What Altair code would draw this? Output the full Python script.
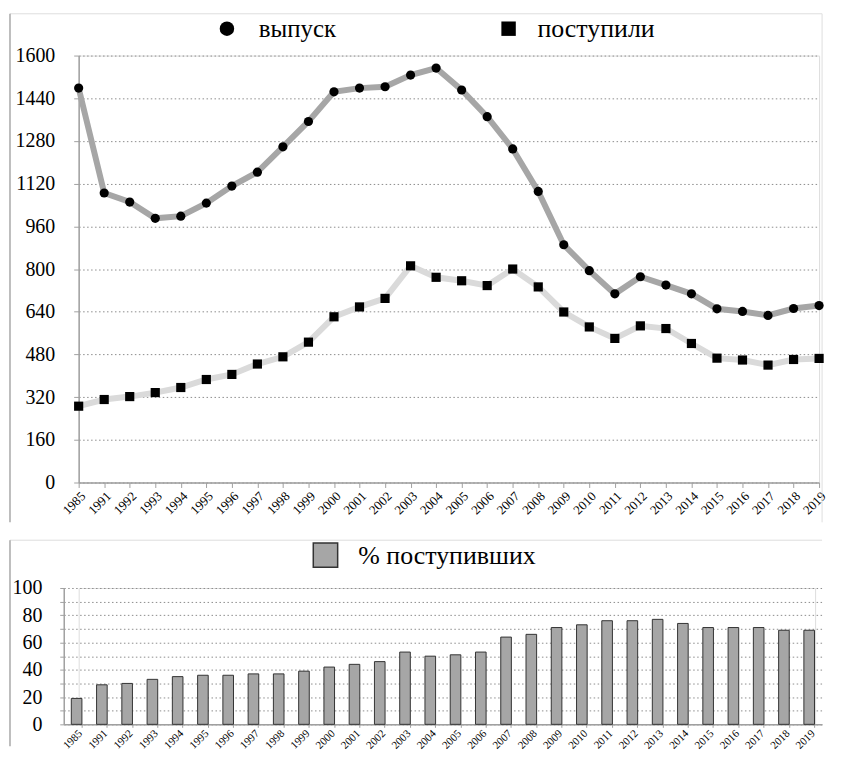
import altair as alt
import pandas as pd

SERIF = "Liberation Serif"

years = ["1985", "1991", "1992", "1993", "1994", "1995", "1996", "1997", "1998", "1999",
         "2000", "2001", "2002", "2003", "2004", "2005", "2006", "2007", "2008", "2009",
         "2010", "2011", "2012", "2013", "2014", "2015", "2016", "2017", "2018", "2019"]
vypusk = [1478, 1085, 1051, 990, 998, 1047, 1111, 1163, 1258, 1353,
          1464, 1478, 1483, 1527, 1553, 1471, 1371, 1250, 1091, 891,
          794, 707, 771, 740, 707, 651, 641, 626, 652, 663]
postupili = [286, 311, 322, 337, 356, 386, 405, 444, 471, 526,
             621, 658, 690, 812, 769, 756, 738, 800, 733, 639,
             583, 540, 587, 577, 521, 466, 459, 440, 461, 465]
percent = [19, 29, 30, 33, 35, 36, 36, 37, 37, 39,
           42, 44, 46, 53, 50, 51, 53, 64, 66, 71,
           73, 76, 76, 77, 74, 71, 71, 71, 69, 69]
series_names = ["выпуск", "поступили"]
bar_name = "% поступивших"
y_top_ticks = [0, 160, 320, 480, 640, 800, 960, 1120, 1280, 1440, 1600]
y_bot_ticks = [0, 10, 20, 30, 40, 50, 60, 70, 80, 90, 100]

df = pd.DataFrame({
    "year": years * 2,
    "series": [series_names[0]] * len(years) + [series_names[1]] * len(years),
    "value": vypusk + postupili,
})
dfb = pd.DataFrame({"year": years, "pct": percent, "series": [bar_name] * len(years)})
one = pd.DataFrame({"k": [0]})

AX = "#a0a0a0"
GRID = "#8c8c8c"

# ---------------- top chart (plot origin at page x=77) ----------------
TW, TH = 744, 429
RIGHT = 747
xt = alt.X("year:O", sort=years, scale=alt.Scale(type="point", padding=0),
           axis=alt.Axis(title=None, labelAngle=-45, labelFont=SERIF, labelFontSize=13,
                         labelColor="black", domainColor=AX, domainWidth=1.5, tickColor=AX,
                         tickSize=5, labelPadding=2, grid=False))
yt = alt.Y("value:Q", scale=alt.Scale(domain=[0, 1600], nice=False, zero=True),
           axis=alt.Axis(title=None, values=y_top_ticks, format="d", grid=True, gridColor=GRID,
                         gridDash=[1.5, 2.5], gridWidth=1, labelFont=SERIF, labelFontSize=20,
                         labelColor="black", labelPadding=19, tickSize=5, tickColor=AX,
                         domainColor=AX, domainWidth=1.5))

lines = alt.Chart(df).mark_line(strokeWidth=6).encode(
    x=xt, y=yt,
    color=alt.Color("series:N", scale=alt.Scale(domain=series_names, range=["#a6a6a6", "#dadada"]),
                    legend=None),
)
points = alt.Chart(df).mark_point(filled=True, opacity=1, color="black", size=85).encode(
    x=xt, y=yt,
    shape=alt.Shape("series:N", scale=alt.Scale(domain=series_names, range=["circle", "square"]),
                    legend=None),
)

# manual legend (top)
leg1_sym = alt.Chart(one).mark_point(shape="circle", filled=True, opacity=1, color="black",
                                     size=210).encode(x=alt.value(149), y=alt.value(-27))
leg1_txt = alt.Chart(pd.DataFrame({"label": [series_names[0]]})).mark_text(
    align="left", baseline="middle", font=SERIF, fontSize=25, color="black"
).encode(text="label:N", x=alt.value(181), y=alt.value(-27))
leg2_sym = alt.Chart(one).mark_point(shape="square", filled=True, opacity=1, color="black",
                                     size=210).encode(x=alt.value(432), y=alt.value(-27))
leg2_txt = alt.Chart(pd.DataFrame({"label": [series_names[1]]})).mark_text(
    align="left", baseline="middle", font=SERIF, fontSize=26, color="black"
).encode(text="label:N", x=alt.value(461), y=alt.value(-27))

frame_top = alt.Chart(one).mark_rule(color="#dedede", strokeWidth=1).encode(
    x=alt.value(-69), x2=alt.value(RIGHT), y=alt.value(-42))
frame_left = alt.Chart(one).mark_rule(color="#a8a8a8", strokeWidth=1.5).encode(
    x=alt.value(-69), y=alt.value(-42), y2=alt.value(469))
frame_right = alt.Chart(one).mark_rule(color="#dedede", strokeWidth=1).encode(
    x=alt.value(RIGHT), y=alt.value(-42), y2=alt.value(469))

top = alt.layer(frame_top, frame_left, frame_right, lines, points,
                leg1_sym, leg1_txt, leg2_sym, leg2_txt).properties(width=TW, height=TH)

# ---------------- bottom chart (plot origin also at x=77; axis moved to x=62) ----------------
BW, BH = 740, 137
SHIFT = 15
bars = alt.Chart(dfb).mark_bar(stroke="#333333", strokeWidth=1, color="#a6a6a6").encode(
    x=alt.X("year:O", sort=years,
            scale=alt.Scale(paddingInner=0.58, paddingOuter=0.3, range=[-SHIFT, RIGHT]),
            axis=alt.Axis(title=None, labelAngle=-45, bandPosition=1, labelFont=SERIF,
                          labelFontSize=11, labelColor="black", domainColor=AX, domainWidth=1.5,
                          tickColor=AX, tickSize=3, labelPadding=0, grid=False)),
    y=alt.Y("pct:Q", scale=alt.Scale(domain=[0, 100], nice=False),
            axis=alt.Axis(title=None, values=y_bot_ticks, offset=SHIFT,
                          labelExpr="datum.value % 20 == 0 ? datum.label : ''",
                          grid=True, gridColor=GRID, gridDash=[1.5, 2.5], gridWidth=1,
                          labelFont=SERIF, labelFontSize=20, labelColor="black",
                          labelPadding=18, tickSize=4, tickColor=AX, domainColor=AX,
                          domainWidth=1.5)),
)
# manual legend (bottom)
bleg_sym = alt.Chart(one).mark_square(size=600, color="#a6a6a6", stroke="#333333",
                                      strokeWidth=1.5, opacity=1).encode(
    x=alt.value(248), y=alt.value(-33))
bleg_txt = alt.Chart(pd.DataFrame({"label": [bar_name]})).mark_text(
    align="left", baseline="middle", font=SERIF, fontSize=26, color="black"
).encode(text="label:N", x=alt.value(281), y=alt.value(-32))

bframe_top = alt.Chart(one).mark_rule(color="#dedede", strokeWidth=1).encode(
    x=alt.value(-69), x2=alt.value(RIGHT), y=alt.value(-48))
bframe_left = alt.Chart(one).mark_rule(color="#a8a8a8", strokeWidth=1.5).encode(
    x=alt.value(-69), y=alt.value(-48), y2=alt.value(BH + 22))

bottom = alt.layer(bframe_top, bframe_left, bars, bleg_sym, bleg_txt).properties(width=BW, height=BH)

chart = alt.concat(top, bottom, columns=1, align="none", spacing=14).resolve_scale(
    color="independent", shape="independent"
).properties(
    padding={"left": 0, "top": 2, "right": 0, "bottom": -2}
).configure_view(stroke=None).configure(background="white")

chart.save("out.html", embed_options={"renderer": "svg", "actions": False})
